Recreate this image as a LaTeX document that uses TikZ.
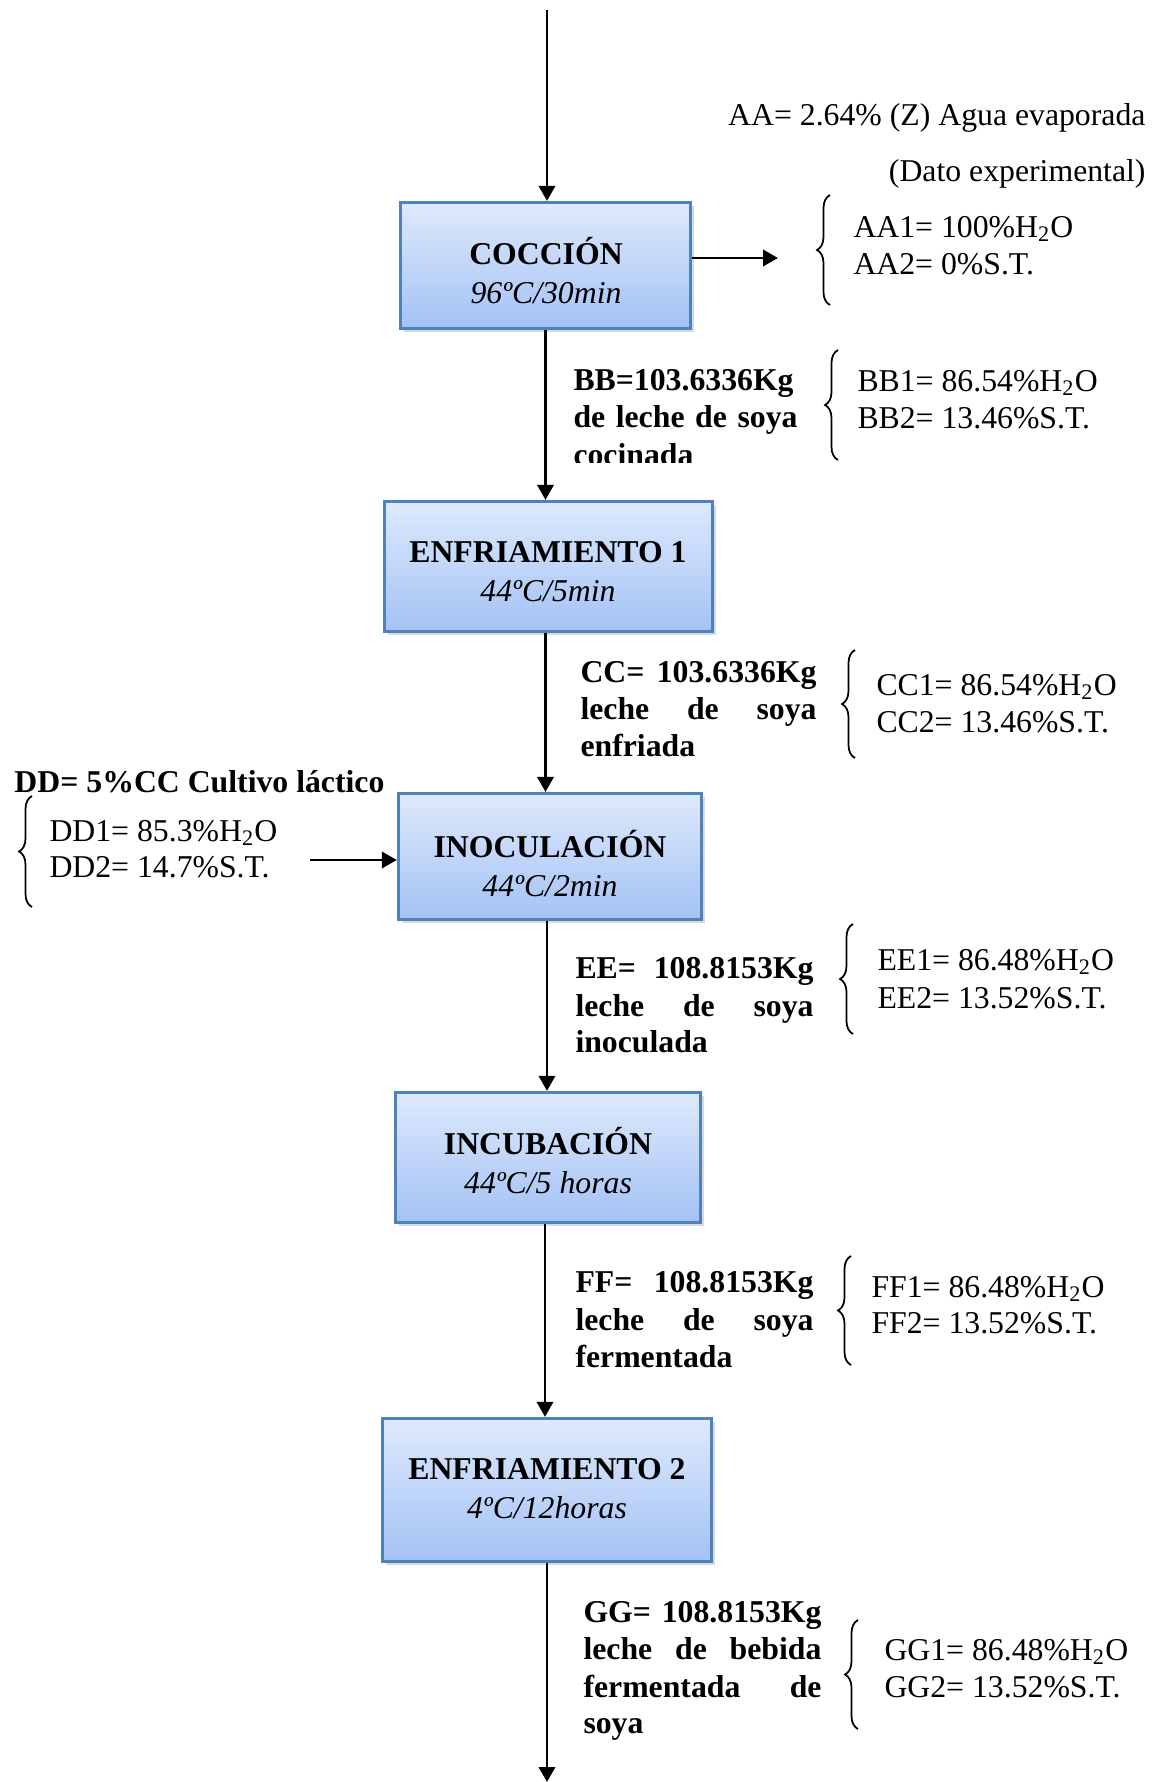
\documentclass[tikz,border=0pt]{standalone}
\usepackage{fontspec}
\setmainfont{Liberation Serif}
\usetikzlibrary{arrows.meta,decorations.pathreplacing,shadows}
\definecolor{boxtop}{RGB}{222,233,252}
\definecolor{boxbot}{RGB}{163,194,245}
\definecolor{boxline}{RGB}{79,129,189}
% a line whose interword spaces stretch to the given width
\newcommand{\jline}[2]{\makebox[#1][s]{#2}}

\begin{document}
\begin{tikzpicture}[x=0.4pt,y=-0.4pt,
  font=\fontsize{12.7}{15.6}\selectfont,
  stage/.style={draw=boxline, line width=1.3pt, top color=boxtop, bottom color=boxbot,
    inner sep=0pt,
    drop shadow={opacity=0.3, shadow xshift=1.2pt, shadow yshift=-1.2pt}},
  stagetext/.style={align=center, inner sep=0pt},
  flow/.style={line width=1.1pt, -{Triangle[length=6pt,width=6.5pt]}},
  curly/.style={decorate, decoration={brace, amplitude=5.2pt}, line width=0.7pt},
  lbl/.style={anchor=base west, inner sep=0pt, font=\fontsize{12.7}{15}\selectfont\bfseries},
  txt/.style={anchor=base west, inner sep=0pt},
  note/.style={anchor=base east, inner sep=0pt},
]
\useasboundingbox (0,0) rectangle (1157,1782);

% process stages: box, then its two-line caption
\node[stage, minimum width=116pt, minimum height=50.4pt] (cocc) at (545.5,265.5) {};
\node[stagetext] (cocct) at (546,270.5) {\textbf{COCCIÓN}\\\textit{96ºC/30min}};
\node[stage, minimum width=131.2pt, minimum height=52pt] (enf1) at (548.5,566.5) {};
\node[stagetext] (enf1t) at (548,571.5) {\textbf{ENFRIAMIENTO 1}\\\textit{44ºC/5min}};
\node[stage, minimum width=121.2pt, minimum height=50.4pt] (inoc) at (550,856.5) {};
\node[stagetext] (inoct) at (550,863.5) {\textbf{INOCULACIÓN}\\\textit{44ºC/2min}};
\node[stage, minimum width=122pt, minimum height=52pt] (incu) at (548,1157.5) {};
\node[stagetext] (incut) at (548,1161) {\textbf{INCUBACIÓN}\\\textit{44ºC/5 horas}};
\node[stage, minimum width=131.6pt, minimum height=57.2pt] (enf2) at (547,1490) {};
\node[stagetext] (enf2t) at (547,1488.5) {\textbf{ENFRIAMIENTO 2}\\\textit{4ºC/12horas}};

% main flow
\coordinate (top) at (547,10);
\coordinate (bot) at (547,1782);
\coordinate (aaout) at (778,258);
\coordinate (ddin) at (310,860);
\draw[flow] (top) -- (top |- cocc.north);
\draw[flow] (cocc.south) -- (cocc.south |- enf1.north);
\draw[flow] (enf1.south -| cocc.south) -- (cocc.south |- inoc.north);
\draw[flow] (inoc.south -| top) -- (top |- incu.north);
\draw[flow] (incu.south -| 545,0) -- (545,0 |- enf2.north);
\draw[flow] (enf2.south -| bot) -- (bot);
\draw[flow] (cocc.east |- aaout) -- (aaout);
\draw[flow] (ddin) -- (ddin -| inoc.west);

% evaporated water
\node[note] (aa) at (1146,125) {AA= 2.64\% (Z) Agua evaporada};
\node[note] (aadato) at (1146,181) {(Dato experimental)};
\draw[curly] (830,305) -- (830,195);
\node[txt] (aa1) at (853,237) {AA1= 100\%H\textsubscript{2}O};
\node[txt] (aa2) at (853,274) {AA2= 0\%S.T.};

% cooked soy milk (its text frame cuts the last line)
\begin{scope}
  \clip (560,350) rectangle (820,462);
  \node[lbl] (bbl1) at (573,390) {BB=103.6336Kg};
  \node[lbl] (bbl2) at (573,427) {\jline{89.6pt}{de leche de soya}};
  \node[lbl] (bbl3) at (573,465) {cocinada};
\end{scope}
\draw[curly] (838,460) -- (838,350);
\node[txt] (bb1) at (857,391) {BB1= 86.54\%H\textsubscript{2}O};
\node[txt] (bb2) at (857,428) {BB2= 13.46\%S.T.};

% cooled soy milk
\node[lbl] (ccl1) at (580,682) {\jline{94.4pt}{CC= 103.6336Kg}};
\node[lbl] (ccl2) at (580,719) {\jline{94.4pt}{leche de soya}};
\node[lbl] (ccl3) at (580,756) {enfriada};
\draw[curly] (855,758) -- (855,650);
\node[txt] (cc1) at (876,695) {CC1= 86.54\%H\textsubscript{2}O};
\node[txt] (cc2) at (876,732) {CC2= 13.46\%S.T.};

% lactic culture
\node[lbl] (ddl) at (14,792) {DD= 5\%CC Cultivo láctico};
\draw[curly] (32,907) -- (32,796);
\node[txt] (dd1) at (49,841) {DD1= 85.3\%H\textsubscript{2}O};
\node[txt] (dd2) at (49,877) {DD2= 14.7\%S.T.};

% inoculated soy milk
\node[lbl] (eel1) at (575,978) {\jline{95.2pt}{EE= 108.8153Kg}};
\node[lbl] (eel2) at (575,1016) {\jline{95.2pt}{leche de soya}};
\node[lbl] (eel3) at (575,1052) {inoculada};
\draw[curly] (853,1034) -- (853,924);
\node[txt] (ee1) at (877,970) {EE1= 86.48\%H\textsubscript{2}O};
\node[txt] (ee2) at (877,1008) {EE2= 13.52\%S.T.};

% fermented soy milk
\node[lbl] (ffl1) at (575,1292) {\jline{95.2pt}{FF= 108.8153Kg}};
\node[lbl] (ffl2) at (575,1330) {\jline{95.2pt}{leche de soya}};
\node[lbl] (ffl3) at (575,1367) {fermentada};
\draw[curly] (851,1365) -- (851,1256);
\node[txt] (ff1) at (871,1297) {FF1= 86.48\%H\textsubscript{2}O};
\node[txt] (ff2) at (871,1333) {FF2= 13.52\%S.T.};

% final product
\node[lbl] (ggl1) at (583,1622) {\jline{95.2pt}{GG= 108.8153Kg}};
\node[lbl] (ggl2) at (583,1659) {\jline{95.2pt}{leche de bebida}};
\node[lbl] (ggl3) at (583,1697) {\jline{95.2pt}{fermentada de}};
\node[lbl] (ggl4) at (583,1733) {soya};
\draw[curly] (858,1729) -- (858,1620);
\node[txt] (gg1) at (884,1660) {GG1= 86.48\%H\textsubscript{2}O};
\node[txt] (gg2) at (884,1697) {GG2= 13.52\%S.T.};
\end{tikzpicture}
\end{document}
